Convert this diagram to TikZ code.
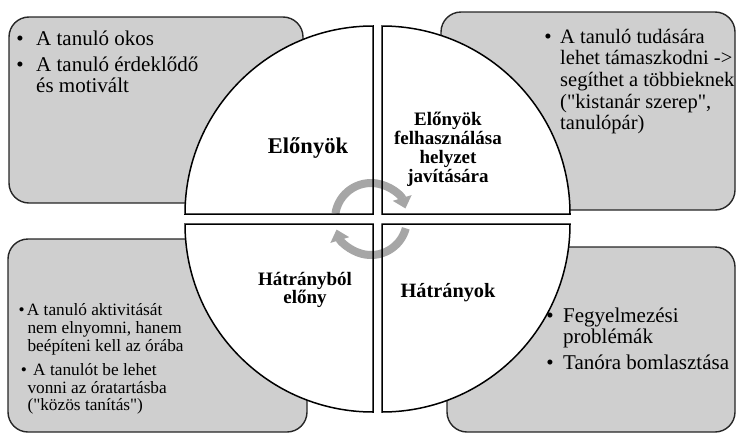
\documentclass[tikz,border=0pt]{standalone}
\usepackage{fontspec}
\setmainfont{Liberation Serif}[Ligatures=TeXOff]
\usetikzlibrary{arrows.meta}
\definecolor{boxgray}{HTML}{CFCFCF}
\definecolor{boxline}{HTML}{262626}
\definecolor{arrowgray}{HTML}{A6A6A6}
\begin{document}
\begin{tikzpicture}[x=1pt,y=1pt,
  box/.style={draw=boxline, line width=1.4pt, fill=boxgray, rounded corners=20pt, inner sep=0pt},
  quadfill/.style={fill=white},
  quadline/.style={draw=black, line width=1.5pt, line join=miter},
  arr/.style={draw=arrowgray, line width=8pt, -{Triangle[width=19pt,length=11pt]}},
  tx/.style={anchor=base west, inner sep=0pt, font=\fontsize{21}{21}\selectfont},
  bu/.style={anchor=base, inner sep=0pt, font=\fontsize{21}{21}\selectfont},
  txr/.style={anchor=base west, inner sep=0pt, font=\fontsize{20.5}{21}\selectfont},
  txs/.style={anchor=base west, inner sep=0pt, font=\fontsize{17.3}{17.3}\selectfont},
  bus/.style={anchor=base, inner sep=0pt, font=\fontsize{17.3}{17.3}\selectfont},
  lab/.style={anchor=base, inner sep=0pt, align=center}]
\useasboundingbox (0,0) rectangle (738,-434);
% grey boxes
\node[box, minimum width=294pt, minimum height=186pt] (boxTL) at (156,-110) {};
\node[box, minimum width=294pt, minimum height=198pt] (boxTR) at (588,-111) {};
\node[box, minimum width=299pt, minimum height=193pt] (boxBL) at (157.5,-335.5) {};
\node[box, minimum width=288pt, minimum height=185pt] (boxBR) at (591,-339.5) {};
% quadrant fills
\path[quadfill] (373,-214) -- (185,-214) arc[start angle=180, end angle=90, radius=188] -- cycle;
\path[quadfill] (382,-214) -- (382,-26) arc[start angle=90, end angle=0, radius=188] -- cycle;
\path[quadfill] (373,-224) -- (185,-224) arc[start angle=180, end angle=270, radius=188] -- cycle;
\path[quadfill] (382,-224) -- (570,-224) arc[start angle=0, end angle=-90, radius=188] -- cycle;
% circular arrows
\coordinate (ac) at (371,-219);
\draw[arr] ([shift={(171:36)}]ac) arc[start angle=171, end angle=17, radius=36];
\draw[arr] ([shift={(-15:36)}]ac) arc[start angle=-15, end angle=-163, radius=36];
% quadrant outlines
\path[quadline] (373,-214) -- (185,-214) arc[start angle=180, end angle=90, radius=188] -- cycle;
\path[quadline] (382,-214) -- (382,-26) arc[start angle=90, end angle=0, radius=188] -- cycle;
\path[quadline] (373,-224) -- (185,-224) arc[start angle=180, end angle=270, radius=188] -- cycle;
\path[quadline] (382,-224) -- (570,-224) arc[start angle=0, end angle=-90, radius=188] -- cycle;
% quadrant labels
\node[lab, font=\bfseries\fontsize{22.5}{24}\selectfont] (lE) at (308,-153) {Előnyök};
\node[lab, font=\bfseries\fontsize{19}{19.2}\selectfont] (lEF1) at (448,-125.5) {Előnyök};
\node[lab, font=\bfseries\fontsize{19}{19.2}\selectfont] (lEF2) at (448,-144.5) {felhasználása};
\node[lab, font=\bfseries\fontsize{19}{19.2}\selectfont] (lEF3) at (448,-163.5) {helyzet};
\node[lab, font=\bfseries\fontsize{19}{19.2}\selectfont] (lEF4) at (448,-182.5) {javítására};
\node[lab, font=\bfseries\fontsize{19}{19}\selectfont] (lHE1) at (305,-285) {Hátrányból};
\node[lab, font=\bfseries\fontsize{19}{19}\selectfont] (lHE2) at (305,-303) {előny};
\node[lab, font=\bfseries\fontsize{20.3}{22}\selectfont] (lH) at (448,-297) {Hátrányok};
% top-left box text
\node[bu] (bTL1) at (20,-45.7) {•};
\node[tx] (tTL1) at (36,-45.7) {A tanuló okos};
\node[bu] (bTL2) at (20,-71.3) {•};
\node[tx] (tTL2) at (36,-71.3) {A tanuló érdeklődő};
\node[tx] (tTL3) at (36,-92.5) {és motivált};
% top-right box text
\node[bu] (bTR1) at (548,-43) {•};
\node[txr] (tTR1) at (560,-43) {A tanuló tudására};
\node[txr] (tTR2) at (560,-64.7) {lehet támaszkodni ->};
\node[txr] (tTR3) at (560,-86.3) {segíthet a többieknek};
\node[txr] (tTR4) at (560,-108) {("kistanár szerep",};
\node[txr] (tTR5) at (560,-129.7) {tanulópár)};
% bottom-left box text
\node[bus] (bBL1) at (21.7,-315.7) {•};
\node[txs] (tBL1) at (26.7,-315.7) {A tanuló aktivitását};
\node[txs] (tBL2) at (27.3,-333.3) {nem elnyomni, hanem};
\node[txs] (tBL3) at (27.3,-351) {beépíteni kell az órába};
\node[bus] (bBL2) at (23.8,-375.3) {•};
\node[txs] (tBL4) at (33,-375.3) {A tanulót be lehet};
\node[txs] (tBL5) at (27.3,-393) {vonni az óratartásba};
\node[txs] (tBL6) at (27.3,-410.7) {("közös tanítás")};
% bottom-right box text
\node[bu] (bBR1) at (550,-322.3) {•};
\node[tx] (tBR1) at (563,-322.3) {Fegyelmezési};
\node[tx] (tBR2) at (563,-343.3) {problémák};
\node[bu] (bBR2) at (550,-369.7) {•};
\node[tx] (tBR3) at (563,-369.7) {Tanóra bomlasztása};
\end{tikzpicture}
\end{document}
